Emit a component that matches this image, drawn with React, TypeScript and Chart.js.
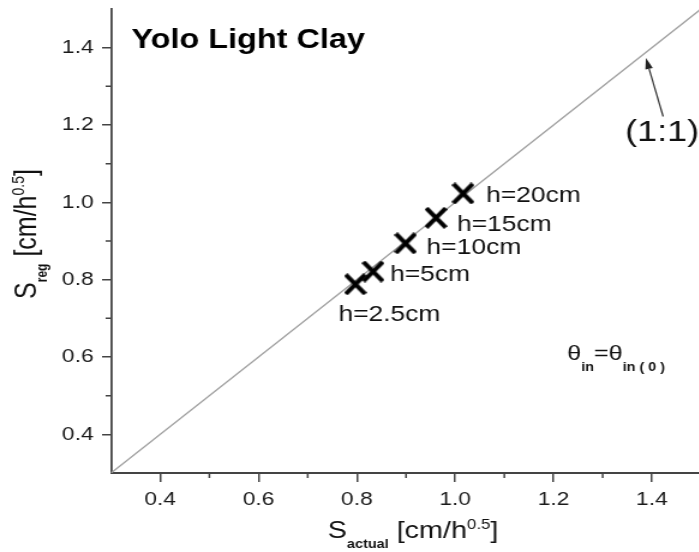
import React, { useEffect, useRef } from 'react';
import { Chart, registerables } from 'chart.js';

Chart.register(...registerables);

// ---- data ----
const S_ACTUAL = [0.797, 0.833, 0.899, 0.961, 1.016];
const S_REG = [0.788, 0.821, 0.894, 0.96, 1.023];
const POINT_LABELS = ['h=2.5cm', 'h=5cm', 'h=10cm', 'h=15cm', 'h=20cm'];
const ONE_TO_ONE_X = [0.3, 1.5];
const ONE_TO_ONE_Y = [0.3, 1.5];
const X_TICKS = [0.4, 0.6, 0.8, 1.0, 1.2, 1.4];
const Y_TICKS = [0.4, 0.6, 0.8, 1.0, 1.2, 1.4];
const X_MINOR = [0.5, 0.7, 0.9, 1.1, 1.3];
const Y_MINOR = [0.5, 0.7, 0.9, 1.1, 1.3];
const AXIS_MIN = 0.3;
const AXIS_MAX = 1.5;
const TITLE = 'Yolo Light Clay';
const ONE_TO_ONE_LABEL = '(1:1)';

// ---- layout / style ----
const SX = 1.2; // horizontal stretch of the whole figure
const W = 584;
const H = 552;
const FAMILY = '"Liberation Sans", Arial, Helvetica, sans-serif';
const AXIS_COLOR = '#444';
// label offsets in screen px: [dx, baseline dy]
const LABEL_OFFSETS: [number, number][] = [
  [-17, 37],
  [17, 9],
  [21, 11],
  [21, 13],
  [23, 9],
];

type Run = { t: string; font: string; dy: number };

function runsWidth(ctx: CanvasRenderingContext2D, runs: Run[]) {
  let w = 0;
  for (const r of runs) {
    ctx.font = r.font;
    w += ctx.measureText(r.t).width;
  }
  return w;
}

function drawRuns(ctx: CanvasRenderingContext2D, x: number, y: number, runs: Run[]) {
  let cx = x;
  ctx.textBaseline = 'alphabetic';
  ctx.textAlign = 'left';
  for (const r of runs) {
    ctx.font = r.font;
    ctx.fillText(r.t, cx, y + r.dy);
    cx += ctx.measureText(r.t).width;
  }
}

function makeCross() {
  const c = document.createElement('canvas');
  c.width = 19;
  c.height = 22;
  const g = c.getContext('2d')!;
  g.strokeStyle = '#000';
  g.lineWidth = 4;
  g.beginPath();
  g.moveTo(1.4, 1.4);
  g.lineTo(17.6, 20.6);
  g.moveTo(17.6, 1.4);
  g.lineTo(1.4, 20.6);
  g.stroke();
  return c;
}

function zeroPadding(s: any) {
  s.paddingTop = 0;
  s.paddingBottom = 0;
  s.paddingLeft = 0;
  s.paddingRight = 0;
}

const annotations = {
  id: 'annotations',
  afterDraw(chart: any) {
    const ctx: CanvasRenderingContext2D = chart.ctx;
    const xs = chart.scales.x;
    const ys = chart.scales.y;
    const area = chart.chartArea;
    ctx.save();

    // minor ticks
    ctx.strokeStyle = AXIS_COLOR;
    ctx.lineWidth = 1.5;
    ctx.beginPath();
    for (const v of X_MINOR) {
      const px = xs.getPixelForValue(v);
      ctx.moveTo(px, area.bottom);
      ctx.lineTo(px, area.bottom + 5);
    }
    for (const v of Y_MINOR) {
      const py = ys.getPixelForValue(v);
      ctx.moveTo(area.left, py);
      ctx.lineTo(area.left - 4.5, py);
    }
    ctx.stroke();

    ctx.fillStyle = '#111';

    // point labels
    const meta = chart.getDatasetMeta(0);
    ctx.font = `22px ${FAMILY}`;
    ctx.textBaseline = 'alphabetic';
    ctx.textAlign = 'left';
    meta.data.forEach((el: any, i: number) => {
      const [dx, dy] = LABEL_OFFSETS[i];
      ctx.fillText(POINT_LABELS[i], el.x + dx / SX, el.y + dy);
    });

    // title
    ctx.font = `bold 27px ${FAMILY}`;
    ctx.fillStyle = '#000';
    ctx.fillText(TITLE, 131.5 / SX, 48);

    // 1:1 arrow
    const tipX = xs.getPixelForValue(1.388);
    const tipY = ys.getPixelForValue(1.373);
    const tailX = xs.getPixelForValue(1.423);
    const tailY = ys.getPixelForValue(1.222);
    const ang = Math.atan2(tipY - tailY, tipX - tailX);
    const hl = 11;
    const hw = 3.2;
    const bx = tipX - Math.cos(ang) * hl;
    const by = tipY - Math.sin(ang) * hl;
    ctx.strokeStyle = '#333';
    ctx.lineWidth = 1.2;
    ctx.beginPath();
    ctx.moveTo(tailX, tailY);
    ctx.lineTo(bx, by);
    ctx.stroke();
    ctx.fillStyle = '#222';
    ctx.beginPath();
    ctx.moveTo(tipX, tipY);
    ctx.lineTo(bx + Math.sin(ang) * hw, by - Math.cos(ang) * hw);
    ctx.lineTo(bx - Math.sin(ang) * hw, by + Math.cos(ang) * hw);
    ctx.closePath();
    ctx.fill();

    ctx.fillStyle = '#111';
    ctx.font = `30px ${FAMILY}`;
    ctx.fillText(ONE_TO_ONE_LABEL, 625 / SX, 141);

    // theta annotation
    const big = `21px ${FAMILY}`;
    const sub = `bold 12px ${FAMILY}`;
    drawRuns(ctx, 567 / SX, 360, [
      { t: 'θ', font: big, dy: 0 },
      { t: 'in', font: sub, dy: 11 },
      { t: '=θ', font: big, dy: 0 },
      { t: 'in ( 0 )', font: sub, dy: 11 },
    ]);

    // x axis title
    const xRuns: Run[] = [
      { t: 'S', font: `24px ${FAMILY}`, dy: 0 },
      { t: 'actual', font: `bold 12px ${FAMILY}`, dy: 10 },
      { t: ' [cm/h', font: `24px ${FAMILY}`, dy: 0 },
      { t: '0.5', font: `14px ${FAMILY}`, dy: -9 },
      { t: ']', font: `24px ${FAMILY}`, dy: 0 },
    ];
    const xw = runsWidth(ctx, xRuns);
    drawRuns(ctx, 413 / SX - xw / 2, 538, xRuns);

    // y axis title (rotated)
    const yRuns: Run[] = [
      { t: 'S', font: `25px ${FAMILY}`, dy: 0 },
      { t: 'reg', font: `bold 12px ${FAMILY}`, dy: 9 },
      { t: ' [cm/h', font: `25px ${FAMILY}`, dy: 0 },
      { t: '0.5', font: `14px ${FAMILY}`, dy: -10 },
      { t: ']', font: `25px ${FAMILY}`, dy: 0 },
    ];
    const yw = runsWidth(ctx, yRuns);
    ctx.translate(36.5 / SX, 234 + yw / 2);
    ctx.rotate(-Math.PI / 2);
    drawRuns(ctx, 0, 0, yRuns);

    ctx.restore();
  },
};

export default function App() {
  const ref = useRef<HTMLCanvasElement>(null);

  useEffect(() => {
    const canvas = ref.current!;
    const cross = makeCross();
    const tickFont = { family: FAMILY, size: 19 };
    const chart = new Chart(canvas, {
      type: 'scatter',
      data: {
        datasets: [
          {
            data: S_ACTUAL.map((x, i) => ({ x, y: S_REG[i] })),
            pointStyle: cross as any,
            pointRadius: 11,
            showLine: false,
            order: 0,
          },
          {
            type: 'line',
            data: ONE_TO_ONE_X.map((x, i) => ({ x, y: ONE_TO_ONE_Y[i] })),
            borderColor: '#a0a0a0',
            borderWidth: 1.3,
            pointRadius: 0,
            fill: false,
            order: 1,
          } as any,
        ],
      },
      options: {
        animation: false,
        responsive: false,
        devicePixelRatio: 1,
        layout: { autoPadding: false, padding: { top: 9, left: 0, right: 0, bottom: 0 } },
        plugins: {
          legend: { display: false },
          tooltip: { enabled: false },
          title: { display: false },
        },
        scales: {
          x: {
            type: 'linear',
            min: AXIS_MIN,
            max: AXIS_MAX,
            afterBuildTicks: (s: any) => {
              s.ticks = X_TICKS.map((v) => ({ value: v }));
            },
            afterFit: (s: any) => {
              s.height = 79;
              zeroPadding(s);
            },
            ticks: {
              callback: (v: any) => Number(v).toFixed(1),
              font: tickFont,
              color: '#1a1a1a',
              padding: 6,
              maxRotation: 0,
              autoSkip: false,
            },
            grid: {
              drawOnChartArea: false,
              drawTicks: true,
              tickLength: 9,
              color: AXIS_COLOR,
              lineWidth: 1.5,
            },
            border: { display: true, color: AXIS_COLOR, width: 2 },
          },
          y: {
            type: 'linear',
            min: AXIS_MIN,
            max: AXIS_MAX,
            afterBuildTicks: (s: any) => {
              s.ticks = Y_TICKS.map((v) => ({ value: v }));
            },
            afterFit: (s: any) => {
              s.width = 92.5;
              zeroPadding(s);
            },
            ticks: {
              callback: (v: any) => Number(v).toFixed(1),
              font: tickFont,
              color: '#1a1a1a',
              padding: 7,
              autoSkip: false,
            },
            grid: {
              drawOnChartArea: false,
              drawTicks: true,
              tickLength: 7.5,
              color: AXIS_COLOR,
              lineWidth: 1.5,
            },
            border: { display: true, color: AXIS_COLOR, width: 1.8 },
          },
        },
      },
      plugins: [annotations],
    });
    return () => chart.destroy();
  }, []);

  return (
    <div style={{ position: 'fixed', left: 0, top: 0, width: W * SX, height: H, background: '#fff' }}>
      <canvas
        ref={ref}
        width={W}
        height={H}
        style={{ width: `${W * SX}px`, height: `${H}px`, display: 'block' }}
      />
    </div>
  );
}
